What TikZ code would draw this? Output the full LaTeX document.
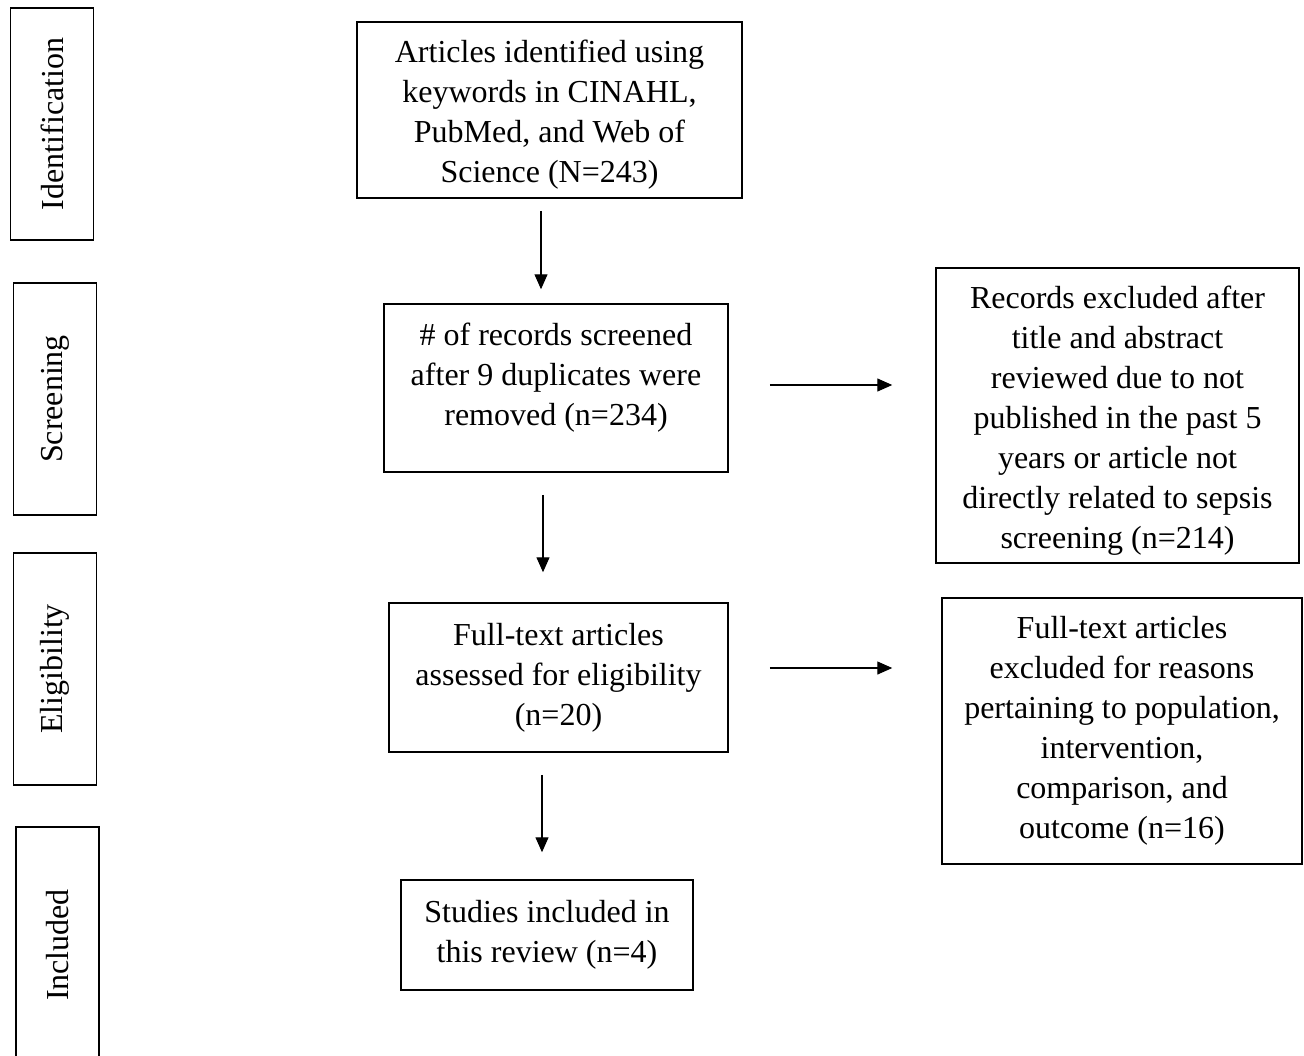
\documentclass[tikz,border=0pt]{standalone}
\usepackage{fontspec}
\setmainfont{Liberation Serif}
\usepackage{tikz}
\usetikzlibrary{arrows.meta,positioning}

\begin{document}
\begin{tikzpicture}[x=0.5pt,y=-0.5pt,font=\fontsize{16}{20}\selectfont]
        \tikzstyle{box}=[draw,line width=0.75pt,align=center,inner sep=0pt]
        \tikzstyle{stage}=[draw,line width=0.75pt,rotate=90,inner sep=0pt,minimum width=116pt,minimum height=41.5pt]
        \tikzstyle{arr}=[-{Triangle[length=7.5pt,width=6.5pt]},line width=0.65pt]
        \useasboundingbox (0,0) rectangle (1304,1055);
        % stages on the left
        \node[stage] (Id) at (52,124) {Identification};
        \node[stage] (Sc) at (55,399) {Screening};
        \node[stage] (El) at (55,669) {Eligibility};
        \node[stage,minimum width=118pt] (In) at (57.5,945) {Included};
        % main column
        \node[box,minimum width=192.5pt,minimum height=88pt,text height=76pt] (Ar) at (549.5,110) {Articles identified using\\keywords in CINAHL,\\PubMed, and Web of\\Science (N=243)};
        \node[box,minimum width=172pt,minimum height=84pt,text depth=13.5pt] (Rs) at (556,388) {\# of records screened\\after 9 duplicates were\\removed (n=234)};
        \node[box,minimum width=169.5pt,minimum height=74.5pt] (Ft) at (558.5,677.5) {Full-text articles\\assessed for eligibility\\(n=20)};
        \node[box,minimum width=146pt,minimum height=55pt] (St) at (547,935) {Studies included in\\this review (n=4)};
        % exclusions
        \node[box,minimum width=181.5pt,minimum height=147.5pt,text height=136pt] (Re) at (1117.5,415.5) {Records excluded after\\title and abstract\\reviewed due to not\\published in the past 5\\years or article not\\directly related to sepsis\\screening (n=214)};
        \node[box,minimum width=180pt,minimum height=133pt] (Ex) at (1122,731) {Full-text articles\\excluded for reasons\\pertaining to population,\\intervention,\\comparison, and\\outcome (n=16)};
        \path[arr]
        (Ar.south -| 541,0) edge[shorten <=6pt,shorten >=7pt] (Rs.north -| 541,0)
        (Rs.south -| 543,0) edge[shorten <=11pt,shorten >=15pt] (Ft.north -| 543,0)
        (Ft.south -| 542,0) edge[shorten <=11pt,shorten >=13.5pt] (St.north -| 542,0)
        (Rs.east |- 0,385) edge[shorten <=20.5pt,shorten >=21.5pt] (Re.west |- 0,385)
        (Ft.east |- 0,668) edge[shorten <=20.5pt,shorten >=24.5pt] (Ex.west |- 0,668);
    \end{tikzpicture}
\end{document}
